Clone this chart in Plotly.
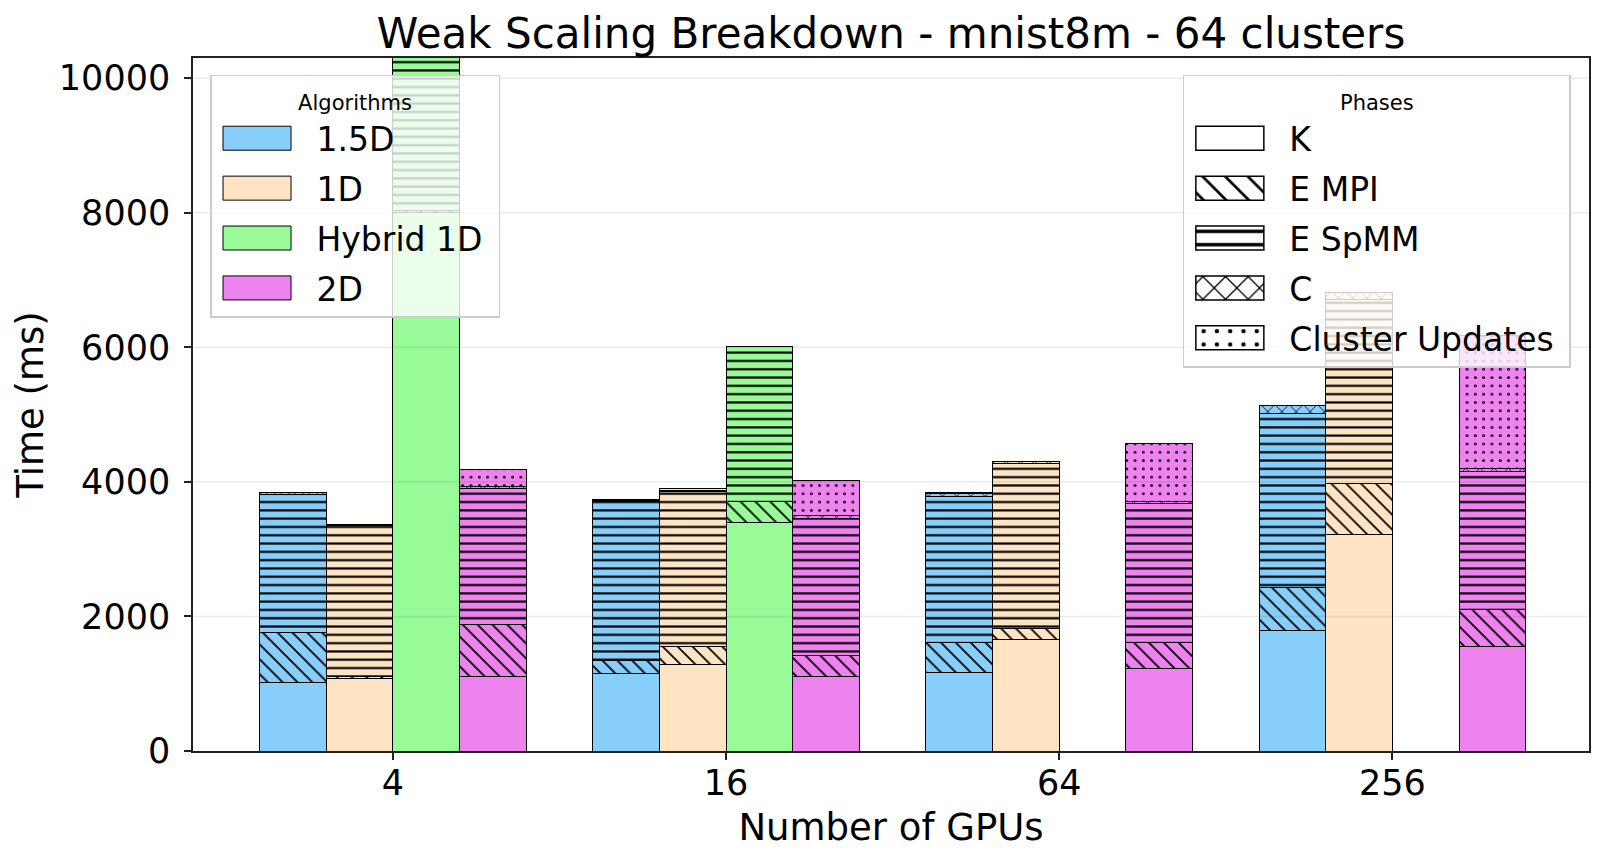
import plotly.graph_objects as go

# ---------------- data ----------------
gpus = ["4", "16", "64", "256"]
algorithms = ["1.5D", "1D", "Hybrid 1D", "2D"]
phases = ["K", "E MPI", "E SpMM", "C", "Cluster Updates"]
alg_colors = ["#87CEFA", "#FFE4C4", "#98FB98", "#EE82EE"]

# time (ms) per phase, per GPU count
k_15d = [1025, 1151, 1166, 1796]
empi_15d = [732, 188, 446, 635]
spmm_15d = [2058, 2366, 2168, 2589]
c_15d = [25, 20, 50, 114]
cu_15d = [8, 15, 9, 0]

k_1d = [1073, 1285, 1657, 3219]
empi_1d = [40, 273, 158, 759]
spmm_1d = [2236, 2296, 2451, 2728]
c_1d = [10, 15, 30, 114]
cu_1d = [5, 35, 0, 0]

k_h1d = [8000, 3398, None, None]
empi_h1d = [30, 307, None, None]
spmm_h1d = [2400, 2307, None, None]
c_h1d = [0, 0, None, None]
cu_h1d = [0, 0, None, None]

k_2d = [1114, 1101, 1225, 1548]
empi_2d = [766, 313, 387, 555]
spmm_2d = [2016, 2043, 2068, 2049]
c_2d = [30, 50, 25, 49]
cu_2d = [257, 511, 868, 1975]

y_ticks = [0, 2000, 4000, 6000, 8000, 10000]

data = {
    "1.5D": [k_15d, empi_15d, spmm_15d, c_15d, cu_15d],
    "1D": [k_1d, empi_1d, spmm_1d, c_1d, cu_1d],
    "Hybrid 1D": [k_h1d, empi_h1d, spmm_h1d, c_h1d, cu_h1d],
    "2D": [k_2d, empi_2d, spmm_2d, c_2d, cu_2d],
}

# ---------------- styles ----------------
phase_patterns = {
    "K": dict(shape=""),
    "E MPI": dict(shape="\\", size=10.5, solidity=0.17),
    "E SpMM": dict(shape="-", size=8.3, solidity=0.26),
    "C": dict(shape="x", size=10, solidity=0.16),
    "Cluster Updates": dict(shape=".", size=8.3, solidity=0.09),
}
BAR_W = 0.2
FONT = "DejaVu Sans"
NBSP = "\u00a0"

fig = go.Figure()

for ai, alg in enumerate(algorithms):
    xs = [gi + (ai - 1.5) * BAR_W for gi in range(len(gpus))]
    for pi, ph in enumerate(phases):
        pat = dict(phase_patterns[ph])
        pat.update(fgcolor="black", bgcolor=alg_colors[ai], fillmode="replace")
        fig.add_trace(go.Bar(
            x=xs, y=data[alg][pi], width=BAR_W,
            marker=dict(color=alg_colors[ai], line=dict(color="black", width=1), pattern=pat),
            showlegend=False, hoverinfo="skip",
        ))

# legend entries (longest label padded so the legend box gets matplotlib-like right padding)
for ai, alg in enumerate(algorithms):
    fig.add_trace(go.Bar(
        x=[None], y=[None], name=alg + (NBSP if alg == "Hybrid 1D" else ""),
        legend="legend", legendgroup=alg,
        marker=dict(color=alg_colors[ai], line=dict(color="black", width=1)),
    ))
for ph in phases:
    pat = dict(phase_patterns[ph])
    pat.update(fgcolor="black", bgcolor="white", fillmode="replace")
    fig.add_trace(go.Bar(
        x=[None], y=[None], name=ph + (NBSP if ph == "Cluster Updates" else ""),
        legend="legend2", legendgroup=ph,
        marker=dict(color="white", line=dict(color="black", width=1.5), pattern=pat),
    ))

# gridlines above bars (matplotlib-style alpha grid)
for t in y_ticks[1:]:
    fig.add_shape(type="line", xref="paper", yref="y", x0=0, x1=1, y0=t, y1=t,
                  line=dict(color="rgba(0,0,0,0.08)", width=1.5), layer="above")

legend_common = dict(
    font=dict(family=FONT, size=33, color="black"),
    bgcolor="rgba(255,255,255,0.8)", bordercolor="#cccccc", borderwidth=1.5,
    yanchor="top", y=0.9755, itemwidth=95, tracegroupgap=4,
    itemclick=False, itemdoubleclick=False,
)


def leg_title(txt):
    return dict(text="<span style='font-size:21px'>" + txt + "</span>",
                side="top center", font=dict(family=FONT, size=26))


fig.update_layout(
    width=1603, height=861,
    margin=dict(l=193, r=14, t=58, b=110, autoexpand=False),
    paper_bgcolor="white", plot_bgcolor="white",
    barmode="stack",
    font=dict(family=FONT, color="black"),
    title=dict(text="Weak Scaling Breakdown - mnist8m - 64 clusters",
               font=dict(family=FONT, size=42, color="black"),
               x=0.5, xref="paper", xanchor="center", y=1 - 33 / 861, yanchor="middle"),
    xaxis=dict(
        range=[-0.6, 3.59], tickmode="array", tickvals=list(range(len(gpus))), ticktext=gpus,
        showgrid=False, zeroline=False, showline=True, mirror=True, linecolor="#222222", linewidth=1.6,
        ticks="outside", ticklen=7, tickwidth=1.6, tickcolor="#222222", ticklabelstandoff=-7,
        tickfont=dict(family=FONT, size=35, color="black"),
        title=dict(text="Number of GPUs", font=dict(family=FONT, size=37, color="black"), standoff=12),
        automargin=False,
    ),
    yaxis=dict(
        range=[0, 10300], tickmode="array", tickvals=y_ticks, ticktext=[str(v) for v in y_ticks],
        showgrid=False, zeroline=False, showline=True, mirror=True, linecolor="#222222", linewidth=1.6,
        ticks="outside", ticklen=7, tickwidth=1.6, tickcolor="#222222", ticklabelstandoff=7,
        tickfont=dict(family=FONT, size=35, color="black"),
        title=dict(text="Time (ms)", font=dict(family=FONT, size=37, color="black"), standoff=4),
        automargin=False,
    ),
    legend=dict(legend_common, x=0.0122, xanchor="left", title=leg_title("Algorithms")),
    legend2=dict(legend_common, x=0.987, xanchor="right", title=leg_title("Phases")),
)

post = """
document.body.style.margin = '0';
document.body.style.overflow = 'hidden';
var gd = document.getElementById('{plot_id}');
function fixLegend() {
  gd.querySelectorAll('g.legendpoints path').forEach(function(p){
    p.setAttribute('d','M27,12H-41V-12H27Z');
    var f = (p.style && p.style.fill) || p.getAttribute('fill') || '';
    var m = f.match(/#([^'")]+)/);
    if (m) {
      var pat = document.getElementById(m[1]);
      if (pat) { pat.setAttribute('patternTransform', 'scale(1.6)'); }
    }
  });
}
fixLegend();
if (gd.on) { gd.on('plotly_afterplot', fixLegend); }
setTimeout(fixLegend, 50);
setTimeout(fixLegend, 400);
"""

fig.write_html("out.html", post_script=post, config={"responsive": False, "displayModeBar": False})
